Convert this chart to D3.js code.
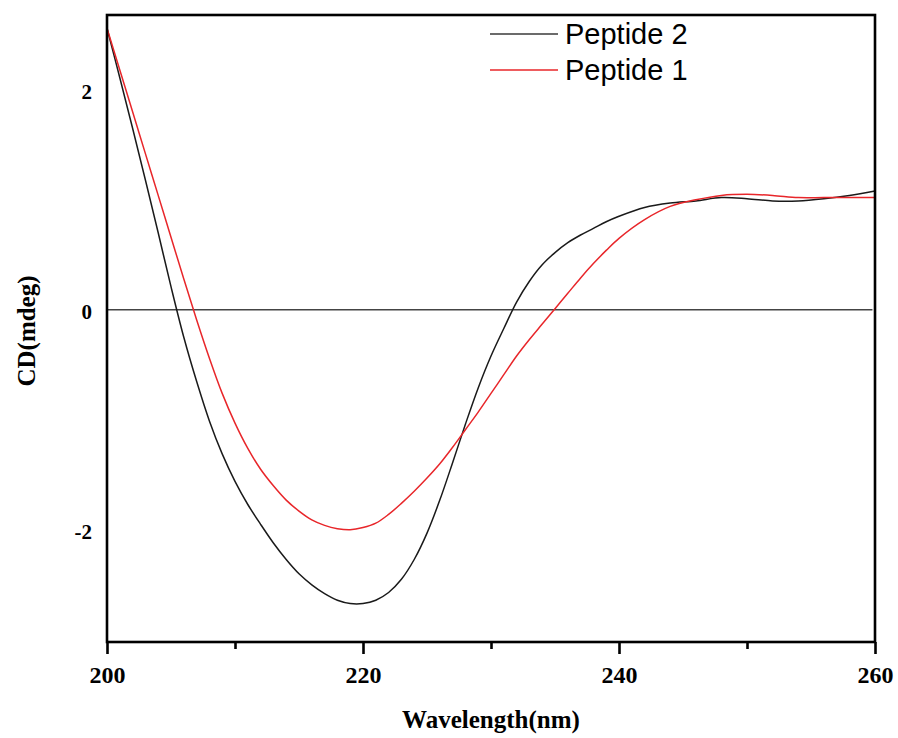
<!DOCTYPE html>
<html>
<head>
<meta charset="utf-8">
<script src="https://cdn.jsdelivr.net/npm/d3@7"></script>
<style>
  body { margin: 0; background: #fff; }
  .tick text { fill: #000; }
</style>
</head>
<body>
<svg id="chart" width="898" height="738"></svg>
<script>
// wavelengths (nm)
var wlA = [200, 201, 202, 203, 204, 205, 206, 207, 208, 209, 210, 211, 212, 213, 214, 215, 216, 217, 218, 219,
  220, 221, 222, 223, 224, 225, 226, 227, 228, 229, 230, 231, 232, 233, 234, 235, 236, 237, 238, 239,
  240, 242, 244, 246, 248, 250, 252, 254, 256, 258, 260];

// Peptide 2 (black)
var pep2 = [2.56, 2.11, 1.65, 1.18, 0.70, 0.21, -0.25, -0.65, -1.01, -1.31, -1.56, -1.77, -1.95, -2.12, -2.27, -2.40, -2.50, -2.58, -2.64, -2.67,
  -2.67, -2.64, -2.57, -2.45, -2.27, -2.03, -1.73, -1.39, -1.04, -0.71, -0.42, -0.17, 0.07, 0.26, 0.41, 0.52, 0.61, 0.68, 0.74, 0.80,
  0.85, 0.93, 0.97, 0.99, 1.02, 1.01, 0.99, 0.99, 1.01, 1.04, 1.08];

// Peptide 1 (red)
var pep1 = [2.56, 2.18, 1.80, 1.42, 1.04, 0.66, 0.28, -0.09, -0.44, -0.76, -1.03, -1.26, -1.45, -1.60, -1.73, -1.83, -1.91, -1.96, -1.99, -2.00,
  -1.98, -1.94, -1.86, -1.76, -1.65, -1.53, -1.40, -1.25, -1.09, -0.93, -0.76, -0.59, -0.42, -0.27, -0.13, 0.01, 0.15, 0.29, 0.42, 0.54,
  0.65, 0.82, 0.94, 1.00, 1.04, 1.05, 1.04, 1.02, 1.02, 1.02, 1.02];

var xMajor = [200, 220, 240, 260];
var xMinor = [210, 230, 250];
var yTicks = [-2, 0, 2];

var series = [
  { name: "Peptide 2", values: pep2, color: "#1a1a1a", legend: "#3a3a3a" },
  { name: "Peptide 1", values: pep1, color: "#e8262a", legend: "#e8262a" }
];

// plot box (note: "top" is a window global, so prefixed names)
var pL = 107, pR = 875, pT = 15, pB = 642;

var svg = d3.select("#chart");

var x = d3.scaleLinear().domain([200, 260]).range([pL, pR]);
var y = d3.scaleLinear().domain([-3.02, 2.68]).range([pB, pT]);

// zero line
svg.append("line")
  .attr("x1", x(200)).attr("x2", x(259.8))
  .attr("y1", y(0)).attr("y2", y(0))
  .attr("stroke", "#444").attr("stroke-width", 1.4);

// curves
var line = d3.line()
  .x(function(d) { return x(d[0]); })
  .y(function(d) { return y(d[1]); })
  .curve(d3.curveCatmullRom.alpha(0.5));

series.forEach(function(s) {
  svg.append("path")
    .datum(wlA.map(function(w, i) { return [w, s.values[i]]; }))
    .attr("fill", "none")
    .attr("stroke", s.color)
    .attr("stroke-width", 1.5)
    .attr("d", line);
});

// frame
svg.append("rect")
  .attr("x", pL).attr("y", pT)
  .attr("width", pR - pL).attr("height", pB - pT)
  .attr("fill", "none").attr("stroke", "#000").attr("stroke-width", 2.6);

// x axis, major + minor ticks
var gx = svg.append("g")
  .attr("transform", "translate(0," + pB + ")")
  .call(d3.axisBottom(x).tickValues(xMajor).tickSize(12).tickPadding(12).tickFormat(d3.format("d")));
gx.select(".domain").remove();
gx.selectAll(".tick line").attr("stroke", "#000").attr("stroke-width", 2.6);
gx.selectAll(".tick text")
  .attr("font-family", "'Liberation Serif', 'Times New Roman', serif")
  .attr("font-weight", "bold")
  .attr("font-size", 24);

var gxm = svg.append("g")
  .attr("transform", "translate(0," + pB + ")")
  .call(d3.axisBottom(x).tickValues(xMinor).tickSize(7).tickFormat(""));
gxm.select(".domain").remove();
gxm.selectAll(".tick line").attr("stroke", "#000").attr("stroke-width", 2.6);

// y axis labels (no tick marks)
var gy = svg.append("g")
  .attr("transform", "translate(" + pL + ",0)")
  .call(d3.axisLeft(y).tickValues(yTicks).tickSize(0).tickPadding(15).tickFormat(function(d) { return String(d); }));
gy.select(".domain").remove();
gy.selectAll(".tick text")
  .attr("dy", "0.4em")
  .attr("font-family", "'Liberation Serif', 'Times New Roman', serif")
  .attr("font-weight", "bold")
  .attr("font-size", 21);

// axis titles
svg.append("text")
  .attr("x", 491).attr("y", 728)
  .attr("text-anchor", "middle")
  .attr("font-family", "'Liberation Serif', 'Times New Roman', serif")
  .attr("font-weight", "bold")
  .attr("font-size", 25)
  .text("Wavelength(nm)");

svg.append("text")
  .attr("transform", "translate(35,331) rotate(-90)")
  .attr("text-anchor", "middle")
  .attr("font-family", "'Liberation Serif', 'Times New Roman', serif")
  .attr("font-weight", "bold")
  .attr("font-size", 25)
  .text("CD(mdeg)");

// legend
var lg = svg.append("g");
series.forEach(function(s, i) {
  var ly = 34 + i * 36;
  lg.append("line")
    .attr("x1", 490).attr("x2", 558)
    .attr("y1", ly).attr("y2", ly)
    .attr("stroke", s.legend).attr("stroke-width", 1.5);
  lg.append("text")
    .attr("x", 565).attr("y", ly + 10)
    .attr("font-family", "'Liberation Sans', Arial, sans-serif")
    .attr("font-size", 29)
    .attr("fill", "#000")
    .text(s.name);
});
</script>
</body>
</html>
